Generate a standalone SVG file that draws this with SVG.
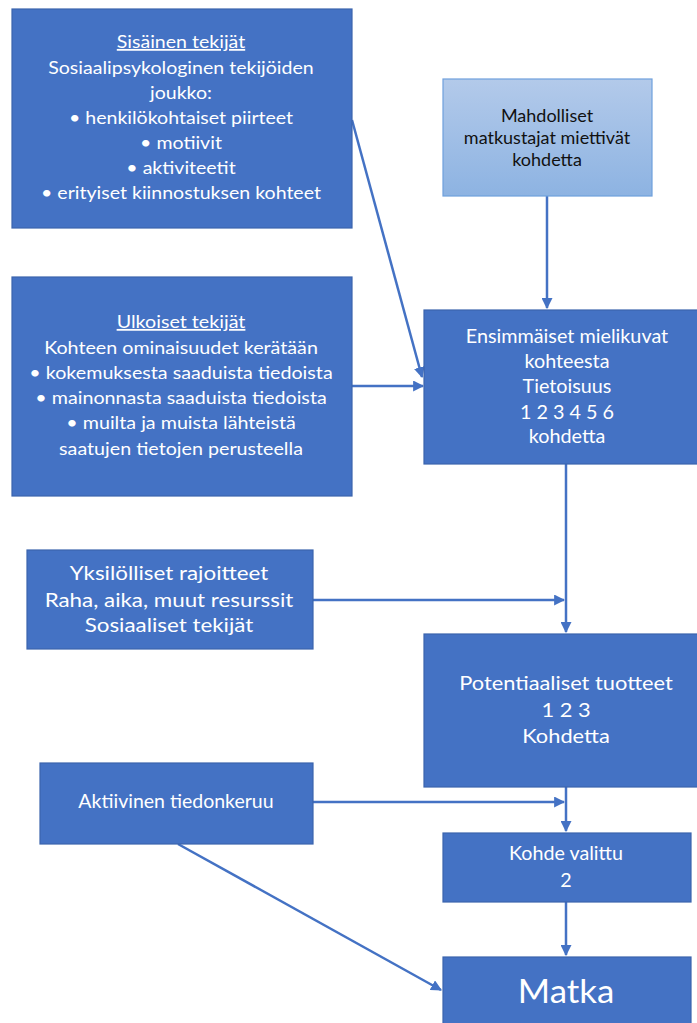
<svg xmlns="http://www.w3.org/2000/svg" width="697" height="1023" viewBox="0 0 697 1023">
<style>
.box{fill:#4472C4;stroke:#3B64AD;stroke-width:1.2}
.t{font-family:Lato,"Open Sans",sans-serif;fill:#fff;text-anchor:middle}
.d{font-family:Lato,"Open Sans",sans-serif;fill:#111;text-anchor:middle}
.c{stroke:#4472C4;stroke-width:2.5;fill:none}
</style>
<defs>
<linearGradient id="lg" x1="0" y1="0" x2="0" y2="1">
<stop offset="0" stop-color="#B3CAEA"/>
<stop offset="1" stop-color="#8DB3E2"/>
</linearGradient>
<marker id="ah" viewBox="0 0 10 10" refX="9" refY="5" markerWidth="4.4" markerHeight="4.4" orient="auto" markerUnits="strokeWidth">
<path d="M0,0 L10,5 L0,10 Z" fill="#4472C4"/>
</marker>
</defs>
<rect width="697" height="1023" fill="#fff"/>
<g id="connectors">
<line class="c" x1="352" y1="120" x2="422" y2="377" marker-end="url(#ah)"/>
<line class="c" x1="352" y1="386" x2="423" y2="386" marker-end="url(#ah)"/>
<line class="c" x1="547" y1="196" x2="547" y2="308" marker-end="url(#ah)"/>
<line class="c" x1="566" y1="464" x2="566" y2="632" marker-end="url(#ah)"/>
<line class="c" x1="313" y1="600" x2="564" y2="600" marker-end="url(#ah)"/>
<line class="c" x1="566" y1="787" x2="566" y2="831" marker-end="url(#ah)"/>
<line class="c" x1="313" y1="802" x2="564" y2="802" marker-end="url(#ah)"/>
<line class="c" x1="566" y1="902" x2="566" y2="955" marker-end="url(#ah)"/>
<line class="c" x1="178" y1="844" x2="441" y2="990" marker-end="url(#ah)"/>
</g>
<g id="sisainen">
<rect class="box" x="12" y="9" width="340" height="219"/>
<g class="t" font-size="18" transform="matrix(1.087 0 0 1 -15.75 0)">
<text x="181" y="48" text-decoration="underline">Sisäinen tekijät</text>
<text x="181" y="74">Sosiaalipsykologinen tekijöiden</text>
<text x="181" y="99">joukko:</text>
<text x="181" y="124">• henkilökohtaiset piirteet</text>
<text x="181" y="149">• motiivit</text>
<text x="181" y="174">• aktiviteetit</text>
<text x="181" y="199">• erityiset kiinnostuksen kohteet</text>
</g>
</g>
<g id="ulkoiset">
<rect class="box" x="12" y="277" width="340" height="219"/>
<g class="t" font-size="18" transform="matrix(1.094 0 0 1 -17 0)">
<text x="181" y="328" text-decoration="underline">Ulkoiset tekijät</text>
<text x="181" y="354">Kohteen ominaisuudet kerätään</text>
<text x="181" y="379">• kokemuksesta saaduista tiedoista</text>
<text x="181" y="404">• mainonnasta saaduista tiedoista</text>
<text x="181" y="429">• muilta ja muista lähteistä</text>
<text x="181" y="455">saatujen tietojen perusteella</text>
</g>
</g>
<g id="mahdolliset">
<rect x="443" y="79" width="209" height="117" fill="url(#lg)" stroke="#6FA0DC" stroke-width="1.2"/>
<g class="d" font-size="17" transform="matrix(1.06 0 0 1 -32.8 0)">
<text x="547" y="122">Mahdolliset</text>
<text x="547" y="144">matkustajat miettivät</text>
<text x="547" y="166">kohdetta</text>
</g>
</g>
<g id="ensimmaiset">
<rect class="box" x="424" y="310" width="280" height="154"/>
<g class="t" font-size="18.5" transform="matrix(1.07 0 0 1 -39.7 0)">
<text x="567" y="343">Ensimmäiset mielikuvat</text>
<text x="567" y="368">kohteesta</text>
<text x="567" y="393">Tietoisuus</text>
<text x="567" y="419">1 2 3 4 5 6</text>
<text x="567" y="443">kohdetta</text>
</g>
</g>
<g id="yksilolliset">
<rect class="box" x="27" y="550" width="286" height="99"/>
<g class="t" font-size="18.5" transform="matrix(1.21 0 0 1 -35.5 0)">
<text x="169" y="580">Yksilölliset rajoitteet</text>
<text x="169" y="607">Raha, aika, muut resurssit</text>
<text x="169" y="632">Sosiaaliset tekijät</text>
</g>
</g>
<g id="potentiaaliset">
<rect class="box" x="424" y="634" width="280" height="153"/>
<g class="t" font-size="19.5" transform="matrix(1.12 0 0 1 -67.9 0)">
<text x="566" y="690">Potentiaaliset tuotteet</text>
<text x="566" y="717">1 2 3</text>
<text x="566" y="743">Kohdetta</text>
</g>
</g>
<g id="aktiivinen">
<rect class="box" x="40" y="763" width="273" height="81"/>
<text class="t" font-size="19" x="176" y="808" transform="matrix(1.027 0 0 1 -4.75 0)">Aktiivinen tiedonkeruu</text>
</g>
<g id="kohde">
<rect class="box" x="443" y="833" width="248" height="69"/>
<g class="t" font-size="18.5" transform="matrix(1.065 0 0 1 -36.8 0)">
<text x="566" y="860">Kohde valittu</text>
<text x="566" y="887">2</text>
</g>
</g>
<g id="matka">
<rect class="box" x="443" y="957" width="248" height="75"/>
<text class="t" font-size="32" x="566" y="1003" transform="matrix(1.09 0 0 1 -50.9 0)">Matka</text>
</g>
</svg>
